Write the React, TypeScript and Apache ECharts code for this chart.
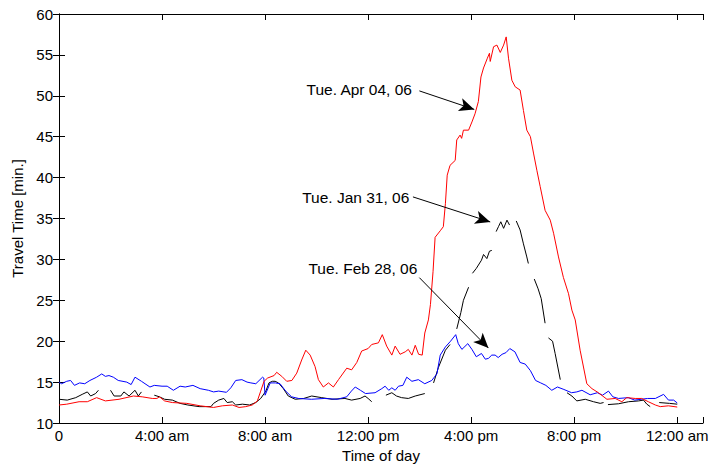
import React, { useEffect, useRef } from "react";
import * as echarts from "echarts";

// Time of day in hours, travel time in minutes
const apr04: [number, number][] = [
  [0, 12.2], [0.3, 12.3], [0.78, 12.6], [1.1, 12.6], [1.46, 13.1], [1.8, 12.7], [2.33, 12.9], [2.89, 13.3],
  [3.23, 13.2], [3.62, 13.0], [3.8, 13.0], [3.9, 13.2], [4.1, 12.7], [4.4, 12.5], [4.96, 12.4], [5.48, 12.1],
  [6.0, 11.9], [6.34, 12.1], [6.73, 12.2], [6.99, 11.9], [7.25, 12.0], [7.5, 12.2], [7.7, 12.7], [7.83, 13.9],
  [7.96, 15.1], [8.1, 15.5], [8.35, 15.8], [8.45, 16.2], [8.65, 15.7], [8.84, 15.1], [9.04, 15.2], [9.23, 16.1],
  [9.42, 17.7], [9.58, 18.9], [9.75, 18.3], [9.94, 16.9], [10.07, 15.3], [10.26, 14.4], [10.46, 14.9], [10.65, 14.4],
  [10.85, 15.3], [11.17, 16.7], [11.36, 16.5], [11.56, 17.4], [11.75, 18.8], [12.0, 19.1], [12.14, 19.6], [12.4, 19.8],
  [12.55, 20.8], [12.72, 19.4], [12.92, 18.3], [13.05, 19.4], [13.24, 18.4], [13.44, 18.7], [13.56, 19.0], [13.7, 18.3],
  [13.83, 19.5], [13.96, 18.4], [14.1, 18.3], [14.2, 21.0], [14.34, 22.6], [14.42, 24.5], [14.52, 28.5], [14.6, 32.7],
  [14.8, 33.5], [14.92, 34.0], [15.0, 36.8], [15.07, 40.3], [15.18, 41.5], [15.38, 42.1], [15.44, 44.6], [15.57, 45.2],
  [15.63, 44.8], [15.7, 45.8], [15.9, 45.8], [16.03, 46.8], [16.15, 47.8], [16.28, 49.3], [16.38, 52.3], [16.48, 53.4],
  [16.63, 54.6], [16.71, 55.2], [16.74, 54.2], [16.87, 56.0], [17.0, 56.2], [17.13, 55.3], [17.26, 56.2], [17.36, 57.2],
  [17.45, 54.6], [17.58, 51.9], [17.71, 51.1], [17.9, 50.7], [18.03, 48.2], [18.16, 45.8], [18.3, 45.0], [18.42, 43.0],
  [18.55, 40.9], [18.68, 38.9], [18.87, 36.0], [19.07, 34.8], [19.2, 33.2], [19.39, 30.3], [19.58, 27.8], [19.78, 25.8],
  [19.91, 23.8], [20.04, 22.6], [20.23, 18.9], [20.49, 14.8], [20.69, 14.2], [20.94, 13.7], [21.27, 12.9], [21.59, 13.0],
  [21.85, 12.6], [22.04, 13.1], [22.37, 13.0], [22.62, 13.0], [22.88, 12.6], [23.15, 12.2], [23.34, 12.0], [23.66, 12.1],
  [24.0, 11.95],
];

const feb28: [number, number][] = [
  [0, 15.0], [0.1, 14.8], [0.3, 15.1], [0.45, 15.2], [0.6, 14.6], [0.8, 14.9], [1.0, 14.8], [1.2, 15.2],
  [1.46, 15.6], [1.66, 16.0], [1.8, 15.7], [1.94, 15.8], [2.11, 15.6], [2.3, 15.2], [2.63, 15.0], [2.8, 14.7],
  [2.95, 15.6], [3.2, 15.1], [3.53, 14.4], [3.7, 14.6], [4.0, 14.5], [4.2, 14.5], [4.44, 14.0], [4.7, 14.5],
  [4.9, 14.4], [5.2, 14.6], [5.48, 14.2], [5.8, 14.0], [6.0, 13.8], [6.2, 13.9], [6.5, 13.75], [6.67, 14.3],
  [6.86, 15.2], [7.1, 15.3], [7.3, 15.0], [7.45, 14.9], [7.64, 14.8], [7.9, 15.6], [7.95, 15.5], [8.0, 13.4],
  [8.2, 14.9], [8.4, 14.9], [8.58, 14.8], [8.8, 13.9], [9.03, 13.2], [9.3, 13.0], [9.8, 12.9], [10.3, 13.0],
  [10.8, 12.9], [11.17, 13.2], [11.35, 13.9], [11.5, 14.4], [11.7, 14.0], [11.9, 13.6], [12.27, 13.7], [12.53, 14.2],
  [12.66, 14.5], [12.8, 14.0], [12.92, 14.3], [13.05, 14.0], [13.18, 14.5], [13.35, 14.6], [13.5, 15.6], [13.7, 15.1],
  [13.95, 15.3], [14.2, 14.8], [14.47, 15.2], [14.67, 16.0], [14.8, 18.3], [15.0, 19.3], [15.2, 20.0], [15.4, 20.8],
  [15.5, 19.7], [15.64, 19.0], [15.87, 19.7], [16.03, 19.0], [16.2, 18.1], [16.4, 18.5], [16.55, 17.8], [16.67, 17.9],
  [16.8, 18.3], [16.93, 18.3], [17.05, 18.0], [17.2, 18.4], [17.35, 18.6], [17.5, 19.1], [17.7, 18.7], [17.9, 17.4],
  [18.1, 17.2], [18.3, 16.4], [18.5, 15.2], [18.7, 14.9], [18.9, 14.6], [19.13, 14.0], [19.35, 14.4], [19.6, 14.1],
  [19.9, 13.7], [20.1, 13.8], [20.3, 14.0], [20.62, 13.45], [20.9, 13.7], [21.1, 13.4], [21.33, 13.9], [21.5, 13.2],
  [21.72, 13.0], [22.1, 13.1], [22.35, 12.8], [22.6, 12.9], [22.85, 13.0], [23.15, 13.0], [23.47, 13.5], [23.66, 12.8],
  [23.86, 12.8], [24.0, 12.45],
];

const jan31: [number, number | null][] = [
  [0, 12.9], [0.32, 12.8], [0.65, 13.1], [0.9, 13.5], [1.1, 13.8], [1.23, 13.3], [1.42, 13.6], [1.53, 14.0],
  [1.75, null], [2.0, 14.0], [2.14, 13.3], [2.4, 13.3], [2.52, 13.8], [2.72, 13.3], [2.95, 14.0], [3.08, 13.3],
  [3.2, 13.8], [3.45, null], [3.7, 13.4], [3.9, 13.2], [4.1, 12.9], [4.4, 12.8], [4.7, 12.4], [5.0, 12.2],
  [5.44, 12.0], [5.9, 12.0], [6.0, 12.4], [6.2, 12.8], [6.4, 13.0], [6.53, 12.5], [6.73, 12.6], [6.86, 12.2],
  [7.12, 12.3], [7.4, 12.2], [7.64, 12.5], [7.83, 13.0], [8.03, 13.9], [8.15, 14.9], [8.28, 15.1], [8.39, 15.1],
  [8.52, 14.9], [8.71, 14.2], [8.9, 13.3], [9.17, 12.9], [9.5, 13.0], [9.81, 13.3], [10.2, 13.1], [10.6, 12.9],
  [11.1, 13.0], [11.36, 12.8], [11.69, 13.0], [11.88, 13.3], [12.0, 13.0], [12.14, 12.6], [12.4, null], [12.69, 13.4],
  [12.92, 13.7], [13.1, 13.3], [13.3, 13.1], [13.56, 13.0], [13.83, 13.3], [14.2, 13.6], [14.4, null], [14.54, 14.9],
  [14.73, 16.8], [15.0, 18.9], [15.18, 19.6], [15.3, null], [15.44, 21.5], [15.6, 23.5], [15.7, 25.0], [15.9, 26.6],
  [15.97, null], [16.05, 28.3], [16.2, 28.9], [16.4, 29.9], [16.48, 30.6], [16.61, 30.1], [16.71, 31.0], [16.8, 31.1],
  [16.9, null], [16.97, 33.4], [17.06, 34.0], [17.15, 34.6], [17.26, 33.8], [17.39, 34.8], [17.49, 34.2], [17.6, null],
  [17.75, 34.7], [17.9, 33.6], [18.03, 31.9], [18.16, 30.3], [18.22, 29.5], [18.3, null], [18.45, 27.6], [18.6, 26.4],
  [18.72, 25.2], [18.87, 22.2], [18.93, null], [19.0, 20.4], [19.16, 20.0], [19.26, 18.5], [19.46, 15.3], [19.6, null],
  [19.72, 13.7], [19.91, 13.3], [20.1, 12.7], [20.43, 12.9], [20.75, 12.6], [21.01, 12.4], [21.14, 12.5], [21.22, null],
  [21.31, 12.25], [21.72, 12.35], [22.11, 12.6], [22.5, 12.7], [22.69, 12.8], [22.82, 12.3], [22.95, 12.0], [23.1, null],
  [23.3, 12.5], [23.7, 12.4], [24.0, 12.3],
];

const xTickValues = [0, 4, 8, 12, 16, 20, 24];
const xTickLabels = ["0", "4:00 am", "8:00 am", "12:00 pm", "4:00 pm", "8:00 pm", "12:00 am"];

const annotationNames = ["Tue. Apr 04, 06", "Tue. Jan 31, 06", "Tue. Feb 28, 06"];
const annotationTextAt: [number, number][] = [[13.72, 50.73], [13.62, 37.6], [13.93, 28.94]];
const annotationArrowFrom: [number, number][] = [[13.99, 50.6], [13.74, 37.64], [13.99, 27.77]];
const annotationArrowTo: [number, number][] = [[16.12, 48.34], [16.74, 34.58], [16.67, 19.16]];

const FONT = "'Liberation Sans', Arial, sans-serif";

export default function App() {
  const ref = useRef<HTMLDivElement>(null);
  useEffect(() => {
    if (!ref.current) return;
    const chart = echarts.init(ref.current, undefined, { renderer: "svg" });
    const axisLine = { show: true, lineStyle: { color: "#000", width: 1 } };
    const axisTick = { show: true, inside: true, length: 6, lineStyle: { color: "#000", width: 1 } };
    const xLabel = (v: number) => {
      const i = xTickValues.indexOf(v);
      return i >= 0 ? xTickLabels[i] : "";
    };
    chart.setOption({
      animation: false,
      backgroundColor: "#fff",
      grid: { left: 59, right: 10, top: 14, bottom: 47, containLabel: false },
      xAxis: [
        {
          type: "value", min: 0, max: 25, interval: 4, position: "bottom",
          axisLine, axisTick, splitLine: { show: false },
          axisLabel: { formatter: xLabel, color: "#000", fontSize: 15, fontFamily: FONT, margin: 5 },
          name: "Time of day", nameLocation: "middle", nameGap: 24,
          nameTextStyle: { color: "#000", fontSize: 15, fontFamily: FONT },
        },
        {
          type: "value", min: 0, max: 25, interval: 4, position: "top",
          axisLine, axisTick, splitLine: { show: false }, axisLabel: { show: false },
        },
      ],
      yAxis: [
        {
          type: "value", min: 10, max: 60, interval: 5, position: "left",
          axisLine, axisTick, splitLine: { show: false },
          axisLabel: { color: "#000", fontSize: 15, fontFamily: FONT, margin: 6 },
          name: "Travel Time [min.]", nameLocation: "middle", nameGap: 31, nameRotate: 90,
          nameTextStyle: { color: "#000", fontSize: 15, fontFamily: FONT },
        },
        {
          type: "value", min: 10, max: 60, interval: 5, position: "right",
          axisLine, axisTick, splitLine: { show: false }, axisLabel: { show: false },
        },
      ],
      series: [
        {
          name: "Jan 31", type: "line", data: jan31, showSymbol: false, connectNulls: false,
          lineStyle: { color: "#000", width: 1 }, itemStyle: { color: "#000" }, silent: true,
        },
        {
          name: "Feb 28", type: "line", data: feb28, showSymbol: false,
          lineStyle: { color: "#0000ff", width: 1 }, itemStyle: { color: "#0000ff" }, silent: true,
        },
        {
          name: "Apr 04", type: "line", data: apr04, showSymbol: false,
          lineStyle: { color: "#ff0000", width: 1 }, itemStyle: { color: "#ff0000" }, silent: true,
          markLine: {
            silent: true,
            symbol: ["none", "arrow"],
            symbolSize: [10, 15],
            label: { show: false },
            lineStyle: { color: "#000", width: 1, type: "solid" },
            emphasis: { disabled: true },
            data: annotationArrowFrom.map((from, i) => [
              { coord: from },
              { coord: annotationArrowTo[i] },
            ]),
          },
          markPoint: {
            silent: true,
            symbol: "circle",
            symbolSize: 1,
            itemStyle: { color: "rgba(0,0,0,0)" },
            label: {
              show: true, position: "left", distance: 0,
              color: "#000", fontSize: 15.5, fontFamily: FONT,
              formatter: (p: any) => p.name,
            },
            data: annotationTextAt.map((c, i) => ({ name: annotationNames[i], coord: c })),
          },
        },
      ],
    });
    return () => chart.dispose();
  }, []);
  return (
    <div
      ref={ref}
      style={{ position: "fixed", left: 0, top: 0, width: 713, height: 470, background: "#fff" }}
    />
  );
}
